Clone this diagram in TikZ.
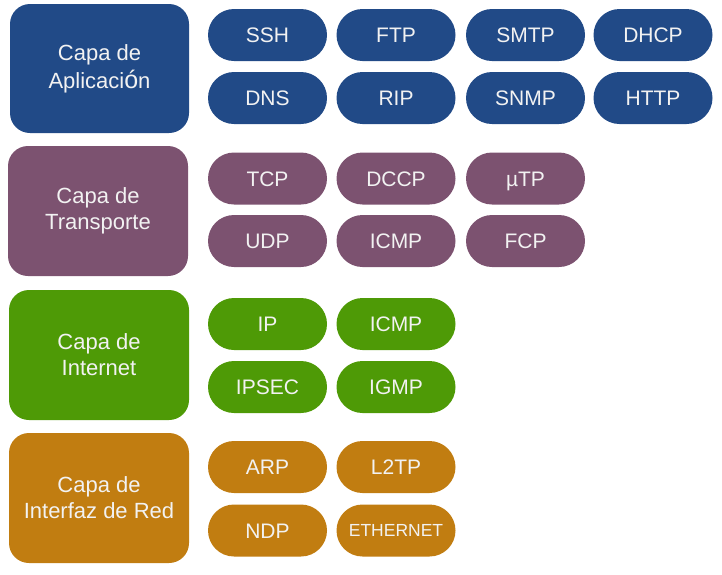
\documentclass[tikz,border=0pt]{standalone}
\usepackage{fontspec}
\setmainfont{Liberation Sans}
\definecolor{cblue}{HTML}{214A87}
\definecolor{cplum}{HTML}{7C5270}
\definecolor{cgreen}{HTML}{4E9A06}
\definecolor{corange}{HTML}{C17D11}
\definecolor{ctext}{HTML}{F2F2F2}
\begin{document}
\begin{tikzpicture}[x=1pt,y=-1pt,
  layerbox/.style={fill=#1, draw=none, rounded corners=20pt, minimum width=180pt, minimum height=130pt,
    inner sep=0pt, align=center, text=ctext, font=\fontsize{22}{26}\selectfont},
  pill/.style={fill=#1, draw=none, rounded corners=26pt, minimum width=119pt, minimum height=52pt,
    inner sep=0pt, text=ctext, text height=15pt, text depth=0pt, font=\fontsize{21}{26}\selectfont}]
\useasboundingbox (0,0) rectangle (722,574);
% Aplicacion
\node[layerbox=cblue, minimum width=179pt, minimum height=129pt] (app) at (99.5,68.5) {Capa de\\[2pt]Aplicaci{\fontsize{25}{26}\selectfont ó}n};
\node[pill=cblue] (ssh) at (267.5,35) {SSH};
\node[pill=cblue] (ftp) at (396,35) {FTP};
\node[pill=cblue] (smtp) at (525.5,35) {SMTP};
\node[pill=cblue] (dhcp) at (653,35) {DHCP};
\node[pill=cblue] (dns) at (267.5,98) {DNS};
\node[pill=cblue] (rip) at (396,98) {RIP};
\node[pill=cblue] (snmp) at (525.5,98) {SNMP};
\node[pill=cblue] (http) at (653,98) {HTTP};
% Transporte
\node[layerbox=cplum] (trans) at (98,211) {Capa de\\Transporte};
\node[pill=cplum] (tcp) at (267.5,178.5) {TCP};
\node[pill=cplum] (dccp) at (396,178.5) {DCCP};
\node[pill=cplum] (utp) at (525.5,178.5) {µTP};
\node[pill=cplum] (udp) at (267.5,241) {UDP};
\node[pill=cplum] (icmpt) at (396,241) {ICMP};
\node[pill=cplum] (fcp) at (525.5,241) {FCP};
% Internet
\node[layerbox=cgreen] (inet) at (99,355) {Capa de\\Internet};
\node[pill=cgreen] (ip) at (267.5,324) {IP};
\node[pill=cgreen] (icmpi) at (396,324) {ICMP};
\node[pill=cgreen] (ipsec) at (267.5,387) {IPSEC};
\node[pill=cgreen] (igmp) at (396,387) {IGMP};
% Red
\node[layerbox=corange] (red) at (99,498) {Capa de\\Interfaz de Red};
\node[pill=corange] (arp) at (267.5,467) {ARP};
\node[pill=corange] (l2tp) at (396,467) {L2TP};
\node[pill=corange] (ndp) at (267.5,530.5) {NDP};
\node[pill=corange, font=\fontsize{17.5}{20}\selectfont, text height=12.5pt] (eth) at (396,530.5) {ETHERNET};
\end{tikzpicture}
\end{document}
